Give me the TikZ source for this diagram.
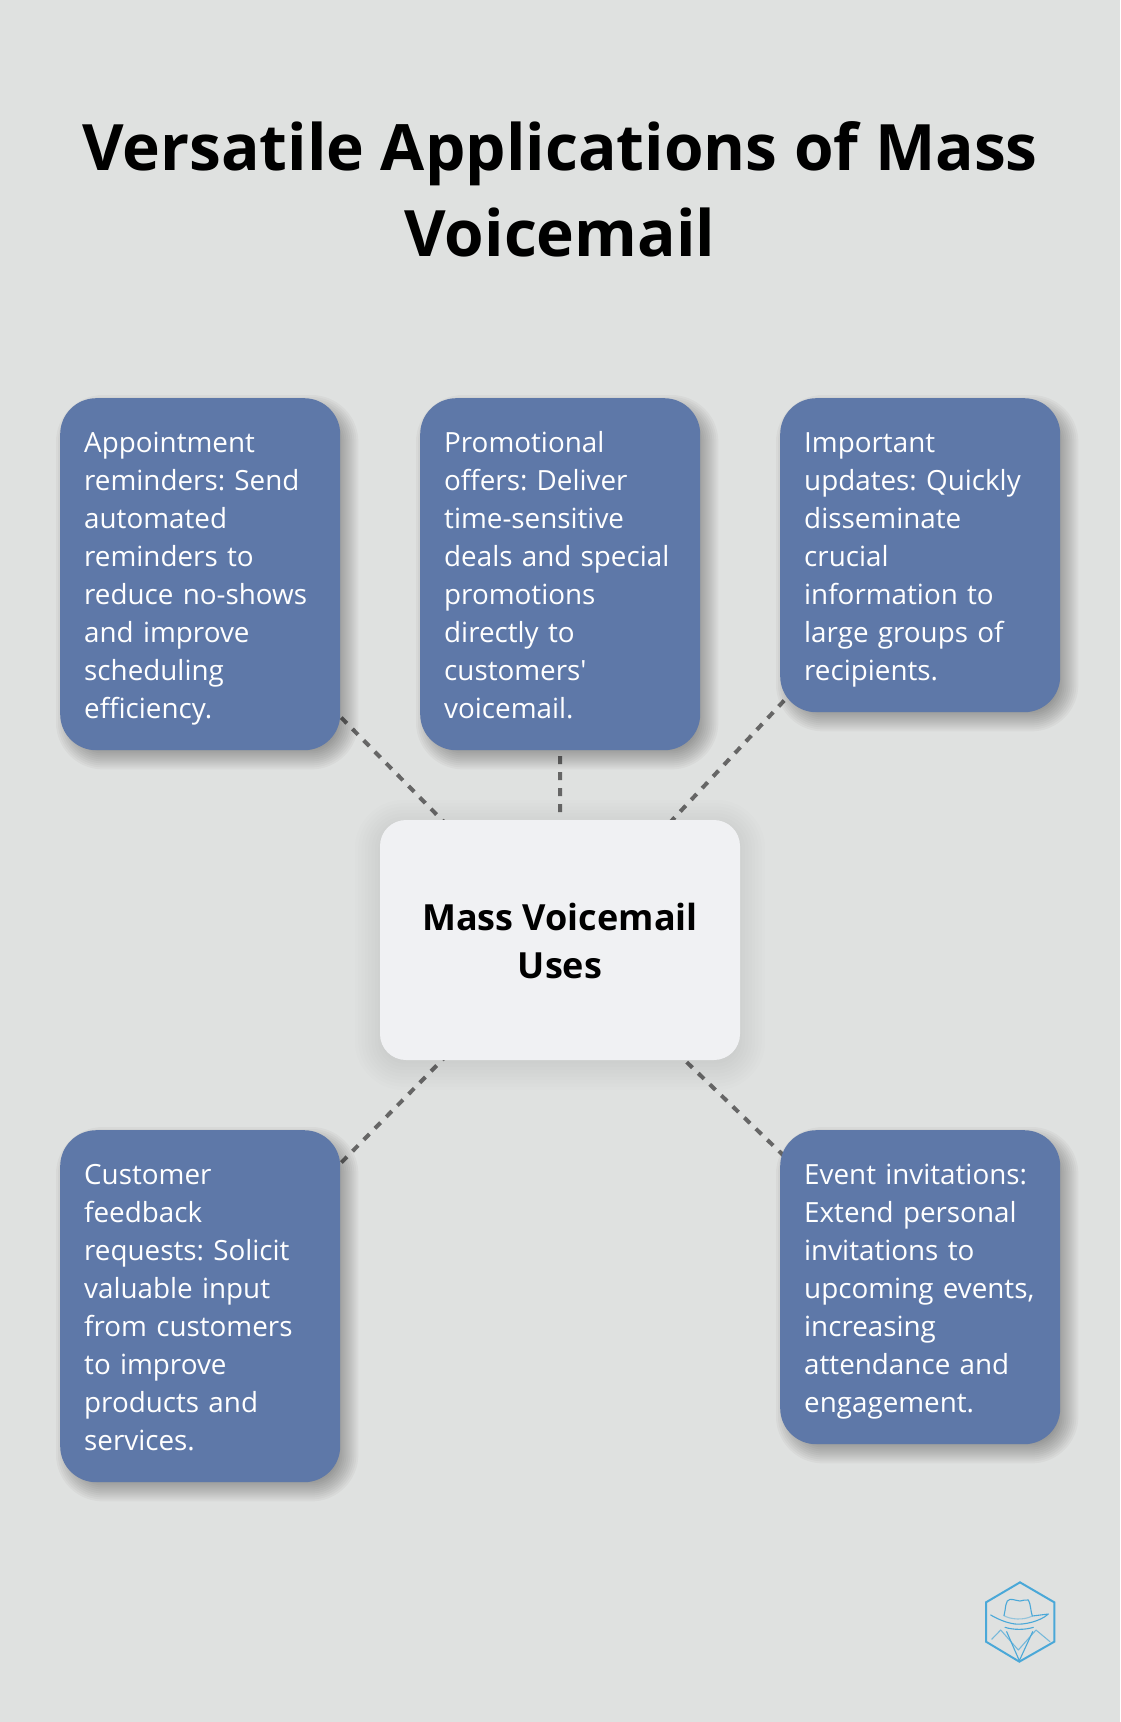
\documentclass[tikz,border=0pt]{standalone}
\usepackage{fontspec}
\setmainfont{Open Sans}
\usetikzlibrary{calc}
\pgfdeclarelayer{bglayer}
\pgfdeclarelayer{linelayer}
\pgfdeclarelayer{shadowlayer}
\pgfsetlayers{bglayer,linelayer,shadowlayer,main}
\definecolor{pagebg}{HTML}{DFE1E0}
\definecolor{cardblue}{HTML}{5E78A8}
\definecolor{hubfill}{HTML}{F0F1F3}
\definecolor{dashgrey}{HTML}{666666}
\definecolor{logoblue}{HTML}{4AA8D8}
\newcommand{\cl}{\rule{0pt}{30pt}\rule[-8pt]{0pt}{8pt}}
\newcommand{\hl}{\rule{0pt}{38pt}\rule[-10pt]{0pt}{10pt}}
\newcommand{\softshadow}[7]{% name, dx, dy, spread, steps, alpha, radius
  \begin{pgfonlayer}{shadowlayer}
  \foreach \i in {1,...,#5}{
    \pgfmathsetmacro{\e}{#4-2*#4*(\i-1)/(#5-1)}
    \pgfmathsetmacro{\rr}{max(#7+\e,2)}
    \fill[black,opacity=#6,rounded corners=\rr pt]
      ($(#1.north west)+(#2-\e,#3-\e)$) rectangle ($(#1.south east)+(#2+\e,#3+\e)$);
  }
  \end{pgfonlayer}}
\tikzset{
  cardbox/.style={rectangle,anchor=north west,rounded corners=36pt,fill=cardblue,text=white,
    text width=232pt,inner xsep=24pt,inner ysep=24pt,align=left,
    font=\frenchspacing\fontsize{27.8}{38}\selectfont},
  hubbox/.style={rectangle,rounded corners=26pt,fill=hubfill,text=black,
    minimum width=360pt,minimum height=240pt,align=center,inner sep=0pt,
    font=\frenchspacing\fontsize{36}{48}\selectfont\bfseries},
  titletext/.style={align=center,text=black,inner sep=0pt,
    font=\frenchspacing\fontsize{64}{86}\selectfont\bfseries},
  connector/.style={draw=dashgrey,line width=4pt,dash pattern=on 8pt off 8pt},
  logoline/.style={draw=logoblue,line width=1.1pt,line cap=round,line join=round},
  logohex/.style={draw=logoblue,line width=2pt,line join=miter},
}
\begin{document}
\begin{tikzpicture}[x=1pt,y=-1pt]
\useasboundingbox (0,0) rectangle (1120,1722);
\begin{pgfonlayer}{bglayer}
\fill[pagebg] (0,0) rectangle (1120,1722);
\end{pgfonlayer}

\node[titletext] (title) at (560,189) {Versatile Applications of Mass\\Voicemail};

\node[hubbox] (hub) at (560,940) {\hl Mass Voicemail\\\hl Uses};

\node[cardbox] (c1) at (60,398) {\cl Appointment\\\cl reminders: Send\\\cl automated\\\cl reminders to\\\cl reduce no-shows\\\cl and improve\\\cl scheduling\\\cl efficiency.};
\node[cardbox] (c2) at (420,398) {\cl Promotional\\\cl offers: Deliver\\\cl time-sensitive\\\cl deals and special\\\cl promotions\\\cl directly to\\\cl customers\textquotesingle\\\cl voicemail.};
\node[cardbox] (c3) at (780,398) {\cl Important\\\cl updates: Quickly\\\cl disseminate\\\cl crucial\\\cl information to\\\cl large groups of\\\cl recipients.};
\node[cardbox] (c4) at (60,1130) {\cl Customer\\\cl feedback\\\cl requests: Solicit\\\cl valuable input\\\cl from customers\\\cl to improve\\\cl products and\\\cl services.};
\node[cardbox] (c5) at (780,1130) {\cl Event invitations:\\\cl Extend personal\\\cl invitations to\\\cl upcoming events,\\\cl increasing\\\cl attendance and\\\cl engagement.};

\begin{pgfonlayer}{linelayer}
\foreach \c in {c1,c2,c3,c4,c5}{
  \draw[connector] (hub.center) -- (\c.center);
}
\end{pgfonlayer}

\softshadow{hub}{0}{5}{25}{16}{0.009}{24}
\foreach \c in {c1,c2,c3,c4,c5}{
  \softshadow{\c}{7}{8}{11}{12}{0.032}{36}
}

% logo, in coordinates of a 3x crop at (960,1550)
\begin{scope}[shift={(960,1550)},x=0.3333pt,y=-0.3333pt]
\draw[logohex] (180,97) -- (283,157) -- (283,275) -- (178,335) -- (78,275) -- (78,157) -- cycle;
\draw[logoline] (132,197) .. controls (138,175) and (135,150) .. (150,148)
  .. controls (165,148) and (170,153) .. (180,153)
  .. controls (190,153) and (195,147) .. (205,150)
  .. controls (212,160) and (212,185) .. (217,198) -- (265,192)
  .. controls (240,215) and (190,225) .. (165,222)
  .. controls (135,218) and (110,205) .. (92,195);
\draw[logoline,opacity=0.5] (132,197) .. controls (150,208) and (190,212) .. (217,198);
\draw[logoline] (135,232) .. controls (160,240) and (195,240) .. (220,232);
\draw[logoline,opacity=0.7] (95,268) -- (122,240) -- (175,300) -- (228,240) -- (270,275);
\draw[logoline] (140,245) -- (178,332) -- (218,245);
\end{scope}
\end{tikzpicture}
\end{document}
